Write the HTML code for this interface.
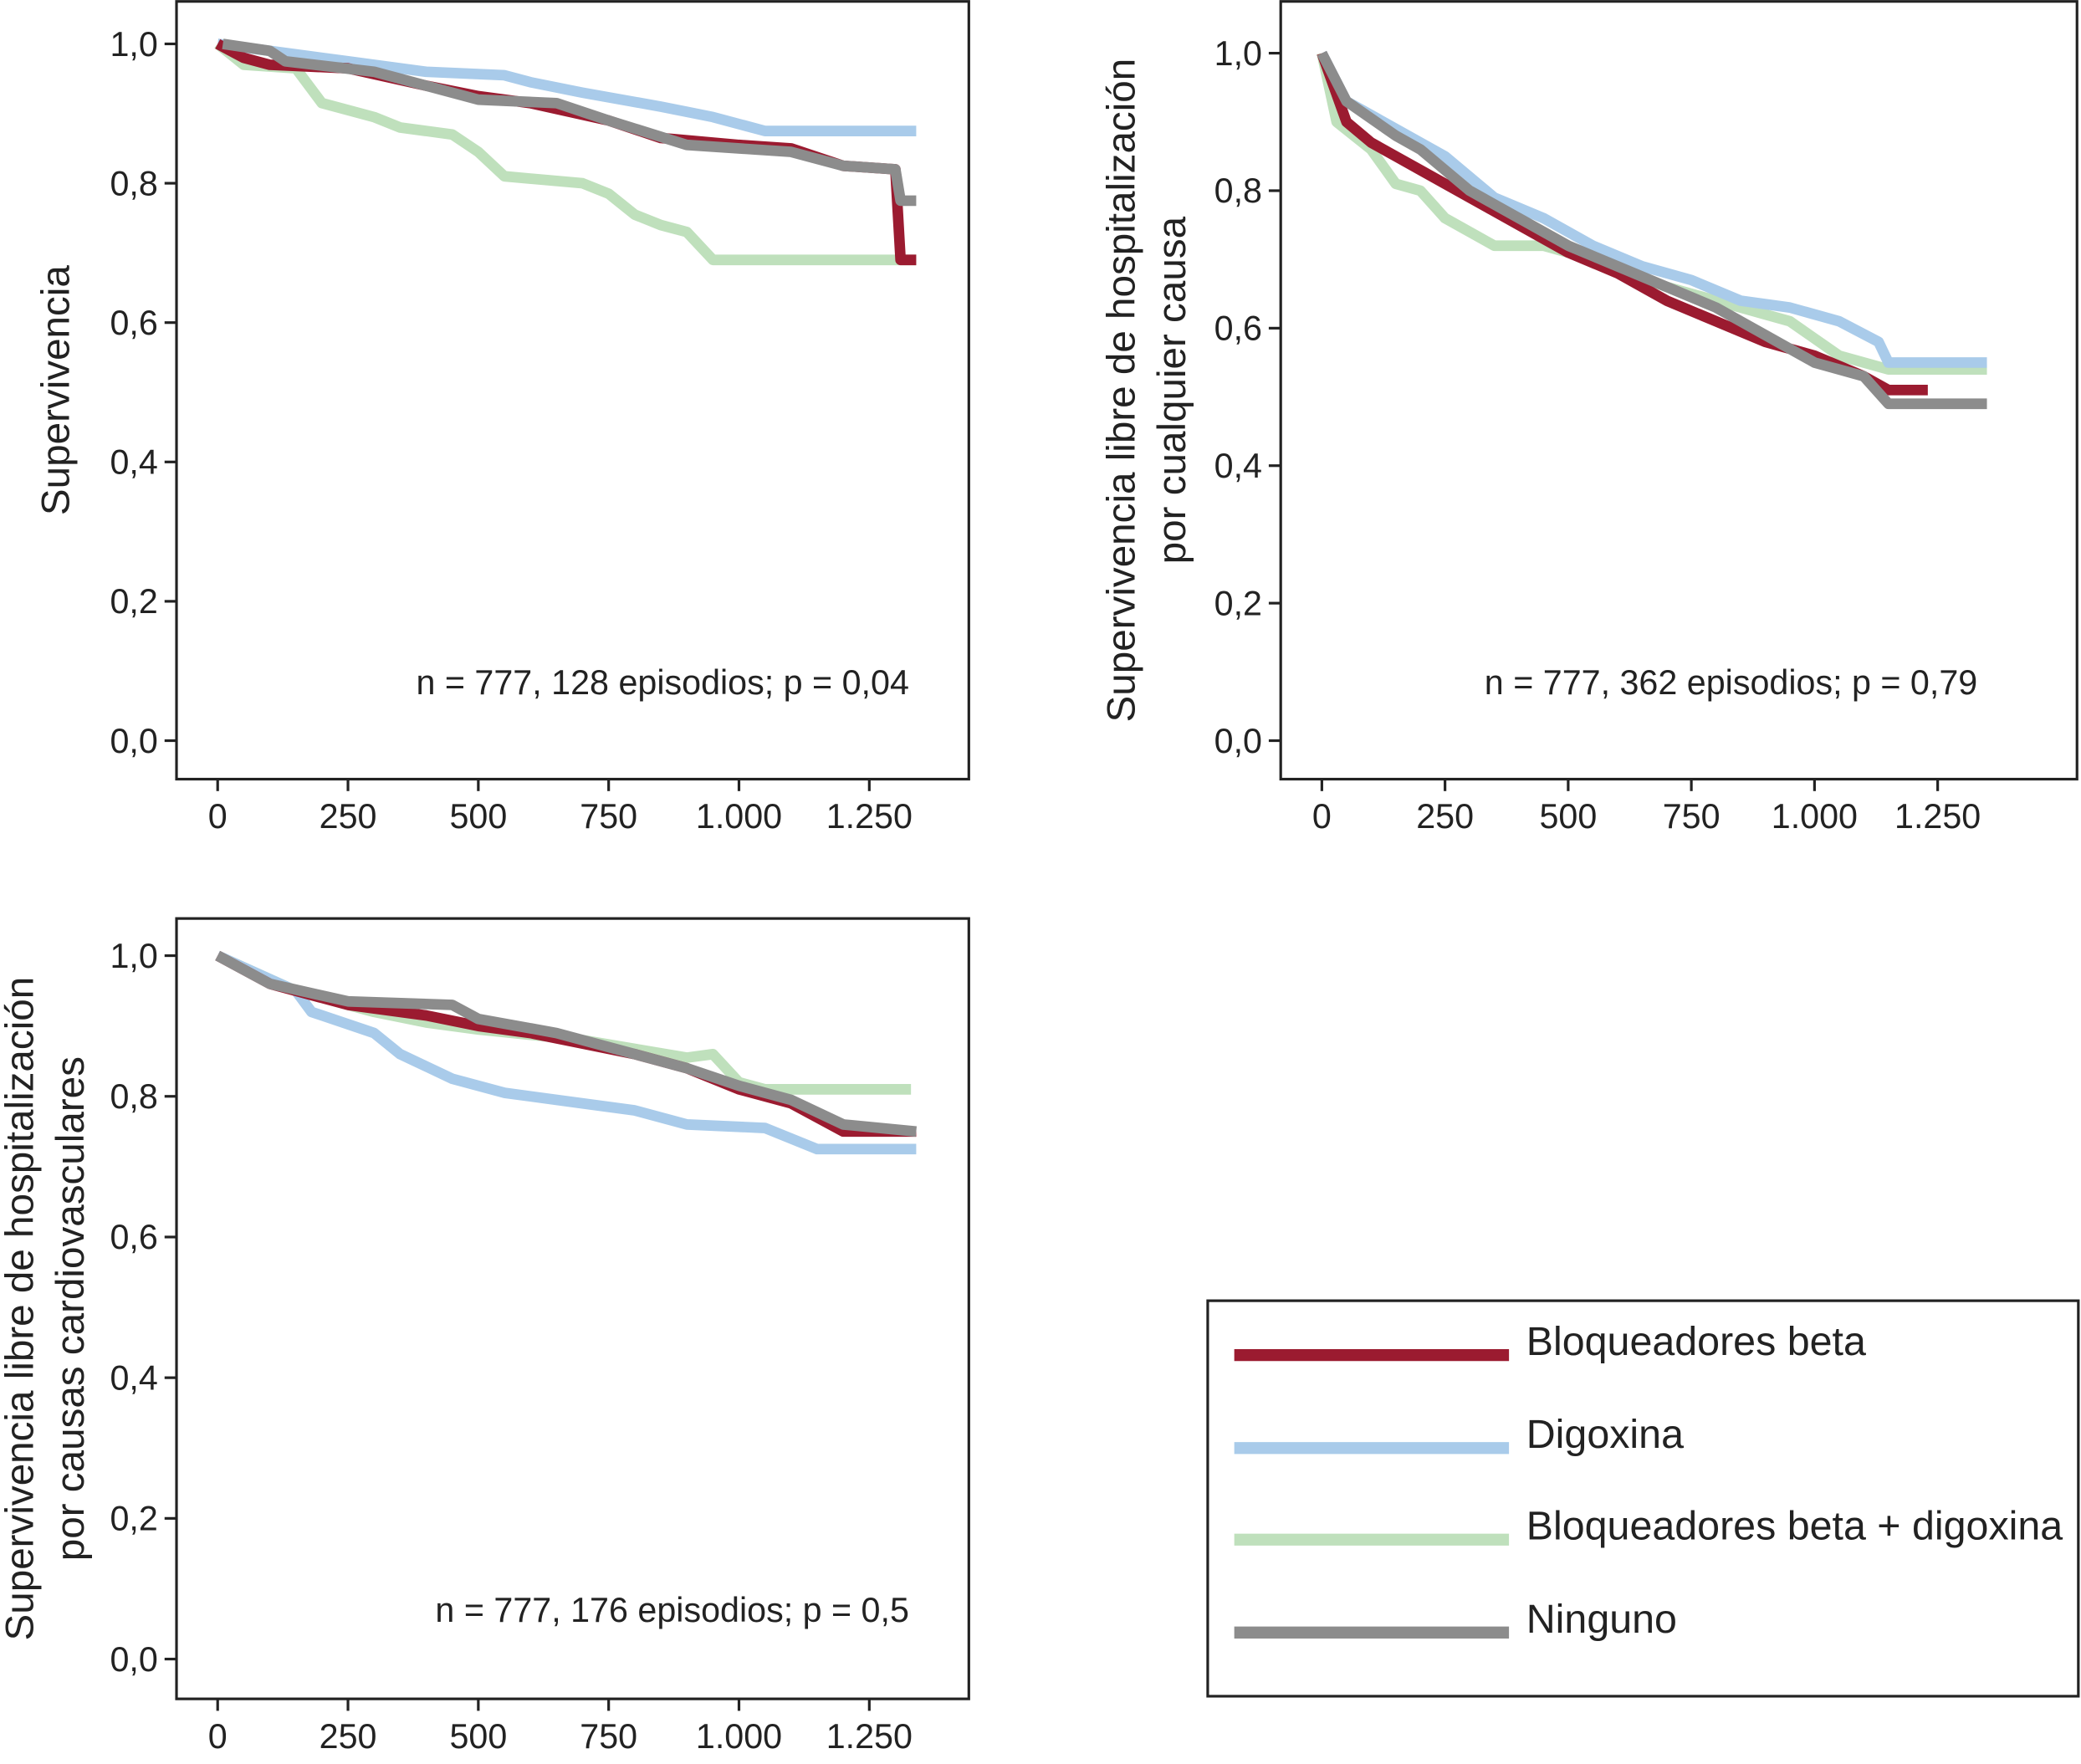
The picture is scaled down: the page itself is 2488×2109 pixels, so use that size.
<!DOCTYPE html>
<html><head><meta charset="utf-8"><style>
html,body{margin:0;padding:0;background:#fff}
svg{display:block}
text{font-family:"Liberation Sans",sans-serif;fill:#222}
</style></head><body>
<svg id="chart" width="2488" height="2109" viewBox="0 0 1568 1329" xmlns="http://www.w3.org/2000/svg"></svg>
<script>
const xTicks = [0,250,500,750,1000,1250];
const xTickLabels = ["0","250","500","750","1.000","1.250"];
const yTicks = [0,0.2,0.4,0.6,0.8,1.0];
const yTickLabels = ["0,0","0,2","0,4","0,6","0,8","1,0"];
const seriesNames = ["Bloqueadores beta","Digoxina","Bloqueadores beta + digoxina","Ninguno"];
const seriesColors = ["#9b1b30","#a9cbea","#bfe0bc","#8c8c8c"];

// Panel 1: overall survival
const p1BetaT = [0,50,100,250,400,500,600,750,850,1000,1100,1200,1300,1310,1340];
const p1BetaS = [1,0.98,0.97,0.965,0.94,0.925,0.915,0.89,0.865,0.855,0.85,0.825,0.82,0.69,0.69];
const p1DigT = [0,100,250,400,550,600,700,850,950,1050,1340];
const p1DigS = [1,0.99,0.975,0.96,0.955,0.945,0.93,0.91,0.895,0.875,0.875];
const p1ComboT = [0,50,150,200,300,350,450,500,550,700,750,800,850,900,950,1340];
const p1ComboS = [1,0.97,0.965,0.915,0.895,0.88,0.87,0.845,0.81,0.80,0.785,0.755,0.74,0.73,0.69,0.69];
const p1NoneT = [10,100,130,300,400,500,650,750,900,1100,1200,1300,1310,1340];
const p1NoneS = [1,0.99,0.975,0.96,0.94,0.92,0.915,0.89,0.855,0.845,0.825,0.82,0.775,0.775];

// Panel 2: hospitalization-free survival (any cause)
const p2BetaT = [0,50,100,150,200,300,400,500,600,700,800,900,1000,1100,1150,1230];
const p2BetaS = [1,0.9,0.87,0.85,0.83,0.79,0.75,0.71,0.68,0.64,0.61,0.58,0.56,0.53,0.51,0.51];
const p2DigT = [0,50,150,250,350,450,550,650,750,850,950,1050,1130,1150,1350];
const p2DigS = [1,0.93,0.89,0.85,0.79,0.76,0.72,0.69,0.67,0.64,0.63,0.61,0.58,0.55,0.55];
const p2ComboT = [0,30,100,150,200,250,350,450,550,700,850,950,1050,1150,1350];
const p2ComboS = [1,0.9,0.86,0.81,0.80,0.76,0.72,0.72,0.70,0.66,0.63,0.61,0.56,0.54,0.54];
const p2NoneT = [0,50,150,200,300,400,500,600,700,800,900,1000,1100,1150,1350];
const p2NoneS = [1,0.93,0.88,0.86,0.80,0.76,0.72,0.69,0.66,0.63,0.59,0.55,0.53,0.49,0.49];

// Panel 3: hospitalization-free survival (cardiovascular)
const p3BetaT = [0,100,250,400,500,600,700,800,900,1000,1100,1200,1340];
const p3BetaS = [1,0.96,0.93,0.915,0.9,0.89,0.875,0.86,0.84,0.81,0.79,0.75,0.75];
const p3DigT = [0,150,180,300,350,450,550,700,800,900,1050,1100,1150,1340];
const p3DigS = [1,0.95,0.92,0.89,0.86,0.825,0.805,0.79,0.78,0.76,0.755,0.74,0.725,0.725];
const p3ComboT = [0,150,300,400,500,700,900,950,1000,1050,1330];
const p3ComboS = [1,0.95,0.92,0.905,0.895,0.88,0.855,0.86,0.82,0.81,0.81];
const p3NoneT = [0,100,250,450,500,650,800,900,1000,1100,1200,1340];
const p3NoneS = [1,0.96,0.935,0.93,0.91,0.89,0.86,0.84,0.815,0.795,0.76,0.75];

const NS="http://www.w3.org/2000/svg";
const svg=document.getElementById('chart');
function mk(tag,attrs,parent){const e=document.createElementNS(NS,tag);for(const k in attrs)e.setAttribute(k,attrs[k]);(parent||svg).appendChild(e);return e;}

function panel(cfg){
  const g=mk('g',{});
  
  
  const xs=v=>cfg.x0+(v/1250)*(cfg.x1250-cfg.x0);
  const ys=v=>cfg.y0-(v)*(cfg.y0-cfg.y1);
  const box=mk('rect',{x:cfg.bx,y:cfg.by,width:cfg.bw,height:cfg.bh,fill:'none',stroke:'#222','stroke-width':2},g);
  
  
  yTicks.forEach((t,i)=>{
    mk('line',{x1:cfg.bx-9,x2:cfg.bx,y1:ys(t),y2:ys(t),stroke:'#222','stroke-width':2},g);
    const tx=mk('text',{x:cfg.bx-14,y:ys(t)+9,'text-anchor':'end','font-size':26},g);
    tx.textContent=yTickLabels[i];
    
    
  });
  xTicks.forEach((t,i)=>{
    mk('line',{x1:xs(t),x2:xs(t),y1:cfg.by+cfg.bh,y2:cfg.by+cfg.bh+9,stroke:'#222','stroke-width':2},g);
    const tx=mk('text',{x:xs(t),y:cfg.by+cfg.bh+37,'text-anchor':'middle','font-size':26},g);
    tx.textContent=xTickLabels[i];
    
    
  });
  const order=[2,1,0,3];
  order.forEach(si=>{
    const T=cfg.series[si][0],S=cfg.series[si][1];
    let d='M'+xs(T[0])+','+ys(S[0]);
    for(let i=1;i<T.length;i++){d+=' L'+xs(T[i])+','+ys(S[i]);}
    const p=mk('path',{d:d,fill:'none',stroke:seriesColors[si],'stroke-width':8,'stroke-linejoin':'round'},g);
    
    
  });
  const an=mk('text',{x:cfg.annX,y:cfg.annY,'text-anchor':'end','font-size':26},g);
  an.textContent=cfg.ann;
  
  
  cfg.titles.forEach(tt=>{
    const t=mk('text',{x:tt[0],y:tt[1],'text-anchor':'middle','font-size':30,transform:'rotate(-90 '+tt[0]+' '+tt[1]+')'},g);
    t.textContent=tt[2];
    
    
  });
}

panel({name:'panel-survival',bx:133,by:1,bw:597,bh:586,x0:164,x1250:655,y0:558,y1:33,
  series:[[p1BetaT,p1BetaS],[p1DigT,p1DigS],[p1ComboT,p1ComboS],[p1NoneT,p1NoneS]],
  ann:'n = 777, 128 episodios; p = 0,04',annX:685,annY:523,
  titles:[[52,294,'Supervivencia']]});
panel({name:'panel-hosp-any-cause',bx:965,by:1,bw:600,bh:586,x0:996,x1250:1460,y0:558,y1:40,
  series:[[p2BetaT,p2BetaS],[p2DigT,p2DigS],[p2ComboT,p2ComboS],[p2NoneT,p2NoneS]],
  ann:'n = 777, 362 episodios; p = 0,79',annX:1490,annY:523,
  titles:[[855,294,'Supervivencia libre de hospitalización'],[893,294,'por cualquier causa']]});
panel({name:'panel-hosp-cardiovascular',bx:133,by:692,bw:597,bh:588,x0:164,x1250:655,y0:1250,y1:720,
  series:[[p3BetaT,p3BetaS],[p3DigT,p3DigS],[p3ComboT,p3ComboS],[p3NoneT,p3NoneS]],
  ann:'n = 777, 176 episodios; p = 0,5',annX:685,annY:1222,
  titles:[[25,986,'Supervivencia libre de hospitalización'],[63,986,'por causas cardiovasculares']]});

// legend
const lg=mk('g',{});


mk('rect',{x:910,y:980,width:656,height:298,fill:'#fff',stroke:'#222','stroke-width':2},lg);
const legY=[1021,1091,1160,1230];
seriesNames.forEach((n,i)=>{
  const e=mk('g',{},lg);
  
  
  mk('line',{x1:930,x2:1137,y1:legY[i],y2:legY[i],stroke:seriesColors[i],'stroke-width':9},e);
  const t=mk('text',{x:1150,y:legY[i],'font-size':30.5},e);
  t.textContent=n;
});
</script>
</body></html>
